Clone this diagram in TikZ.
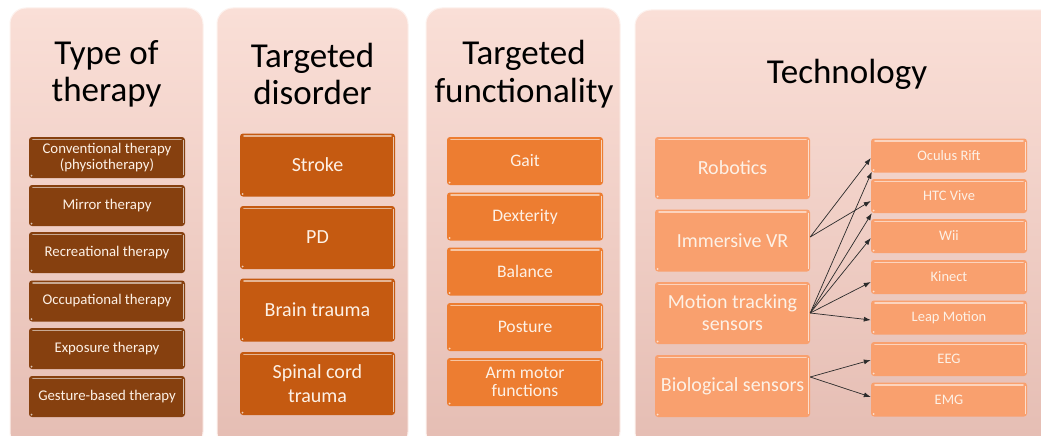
\documentclass[tikz,border=0pt]{standalone}
\usepackage{fontspec}
\setmainfont{Carlito}
\usetikzlibrary{arrows.meta,calc}
\definecolor{pantop}{HTML}{FADFD7}
\definecolor{panbot}{HTML}{E5BDB3}
\definecolor{cA}{HTML}{86400F}
\definecolor{cB}{HTML}{C55A11}
\definecolor{cC}{HTML}{ED7D31}
\definecolor{cD}{HTML}{F9A06E}
\definecolor{txt}{HTML}{FDF1E6}
\definecolor{arrcol}{HTML}{2B2B2B}
\begin{document}
\begin{tikzpicture}[x=1pt,y=-1pt,
  panel/.style={rounded corners=16pt, top color=pantop, bottom color=panbot, draw=white!55!pantop, line width=1pt},
  ttl/.style={font=\fontsize{35}{37.5}\selectfont, align=center, text=black, inner sep=0pt},
  box/.style={rounded corners=3pt, fill=#1, text=txt, align=center, inner sep=0pt,
    path picture={
      \draw[#1!45!white, line width=1.6pt, line cap=round]
        ([xshift=4pt,yshift=-2.6pt]path picture bounding box.north west) --
        ([xshift=-4pt,yshift=-2.6pt]path picture bounding box.north east);
      \draw[#1!35!white, line width=1pt]
        ([xshift=-1.2pt,yshift=-3pt]path picture bounding box.north east) --
        ([xshift=-1.2pt,yshift=3pt]path picture bounding box.south east);
      \fill[#1!30!white] ([xshift=2.5pt,yshift=2.5pt]path picture bounding box.south west) circle (1pt);
    }},
  bA/.style={box=cA, minimum width=156pt, minimum height=41pt, font=\fontsize{14.8}{16.5}\selectfont},
  bB/.style={box=cB, minimum width=155pt, minimum height=63pt, font=\fontsize{20}{24}\selectfont},
  bC/.style={box=cC, minimum width=156pt, minimum height=48pt, font=\fontsize{17.6}{18.5}\selectfont},
  bD/.style={box=cD, minimum width=155pt, minimum height=62pt, font=\fontsize{20}{22}\selectfont},
  bE/.style={box=cD, minimum width=156pt, minimum height=34pt, font=\fontsize{14.5}{17}\selectfont},
  arr/.style={draw=arrcol, line width=0.7pt, -{Latex[length=7pt,width=5pt]}}
]
\useasboundingbox (0,0) rectangle (1041,436);
\clip (0,0) rectangle (1041,436);
\fill[white] (0,0) rectangle (1041,436);

% panels
\path[panel] (10,8) rectangle (203,448);
\path[panel] (217,8) rectangle (408,448);
\path[panel] (426,8) rectangle (620,448);
\path[panel] (635,10) rectangle (1064,448);

% titles
\node[ttl] (t1) at (106.5,74) {Type of\\therapy};
\node[ttl] (t2) at (312.5,74) {Targeted\\disorder};
\node[ttl] (t3) at (524,74) {Targeted\\functionality};
\node[ttl] (t4) at (847,74) {Technology};

% panel 1
\node[bA] (a1) at (107,157.5) {Conventional therapy\\(physiotherapy)};
\node[bA] (a2) at (107,205.5) {Mirror therapy};
\node[bA] (a3) at (107,252.5) {Recreational therapy};
\node[bA] (a4) at (107,301) {Occupational therapy};
\node[bA] (a5) at (107,348.5) {Exposure therapy};
\node[bA] (a6) at (107,396.5) {Gesture-based therapy};

% panel 2
\node[bB] (b1) at (317.5,165) {Stroke};
\node[bB] (b2) at (317.5,237.5) {PD};
\node[bB] (b3) at (317.5,310) {Brain trauma};
\node[bB] (b4) at (317.5,383.5) {Spinal cord\\trauma};

% panel 3
\node[bC] (c1) at (525,161) {Gait};
\node[bC] (c2) at (525,216.5) {Dexterity};
\node[bC] (c3) at (525,271.5) {Balance};
\node[bC] (c4) at (525,327) {Posture};
\node[bC] (c5) at (525,382) {Arm motor\\functions};

% panel 4 left
\node[bD] (rob) at (732.5,168) {Robotics};
\node[bD] (ivr) at (732.5,240.5) {Immersive VR};
\node[bD] (mts) at (732.5,313) {Motion tracking\\sensors};
\node[bD] (bio) at (732.5,386) {Biological sensors};

% panel 4 right
\node[bE] (ocu) at (949,155.5) {Oculus Rift};
\node[bE] (htc) at (949,196) {HTC Vive};
\node[bE] (wii) at (949,236) {Wii};
\node[bE] (kin) at (949,277) {Kinect};
\node[bE] (lea) at (949,317.5) {Leap Motion};
\node[bE] (eeg) at (949,359) {EEG};
\node[bE] (emg) at (949,399.5) {EMG};

% arrows
\draw[arr] ([yshift=3.5pt]ivr.east) -- ([yshift=-2.5pt]ocu.west);
\draw[arr] ([yshift=3.5pt]ivr.east) -- ([yshift=-5pt]htc.west);
\draw[arr] (mts.east) -- ([xshift=1pt,yshift=1pt]ocu.south west);
\draw[arr] (mts.east) -- ([xshift=1pt,yshift=0pt]htc.south west);
\draw[arr] (mts.east) -- ([yshift=-2pt]wii.west);
\draw[arr] (mts.east) -- ([yshift=-5pt]kin.west);
\draw[arr] (mts.east) -- ([yshift=-2.5pt]lea.west);
\draw[arr] ([yshift=9pt]bio.east) -- ([yshift=-1pt]eeg.west);
\draw[arr] ([yshift=9pt]bio.east) -- ([yshift=2.5pt]emg.west);
\end{tikzpicture}
\end{document}
